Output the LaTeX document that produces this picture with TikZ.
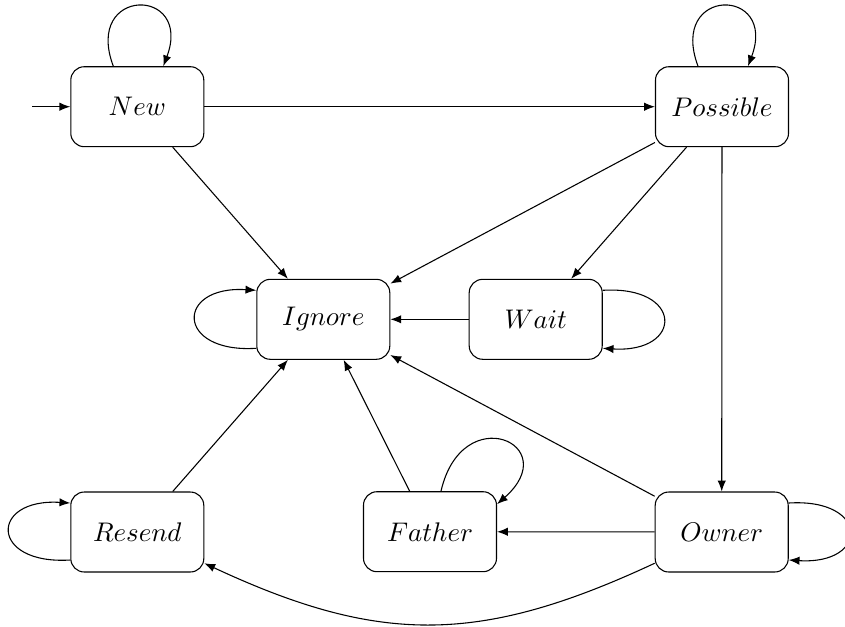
\documentclass[tikz,border=0pt]{standalone}
\usetikzlibrary{arrows.meta,calc}
\begin{document}
\begin{tikzpicture}[x=0.3714pt,y=-0.3714pt,
  state/.style={draw, rounded corners=5pt, minimum width=49.4pt, minimum height=29.7pt, inner sep=0pt},
  >={Latex[length=4pt,width=3.1pt]}]
\useasboundingbox (0,0) rectangle (845,626);
\node[state] (New) at (137.3,106.7) {$New$};
\node[state] (Possible) at (722,106.7) {$Possible$};
\node[state] (Ignore) at (323.3,319.3) {$Ignore$};
\node[state] (Wait) at (535.7,319.3) {$Wait$};
\node[state] (Resend) at (137.3,532) {$Resend$};
\node[state] (Father) at (430,531.7) {$Father$};
\node[state] (Owner) at (721.7,532) {$Owner$};
\coordinate (init) at (32,106.7);

\draw[->] (init) -- (New);
\draw[->] (New) -- (Possible);
\draw[->] (New) -- (Ignore);
\draw[->] (Possible) -- (Ignore);
\draw[->] (Possible) -- (Wait);
\draw[->] (Possible) -- (Owner);
\draw[->] (Wait) -- (Ignore);
\draw[->] (Owner) -- (Ignore);
\draw[->] (Father) -- (Ignore);
\draw[->] (Resend) -- (Ignore);
\draw[->] (Owner) -- (Father);
\draw[->] (Owner) to[bend left=25, looseness=1.1] (Resend);

% loops
\draw[->] ($(New.north)+(-24,0)$) .. controls +(-30,-80) and +(30,-80) .. ($(New.north)+(26,0)$);
\draw[->] ($(Possible.north)+(-24,0)$) .. controls +(-30,-80) and +(30,-80) .. ($(Possible.north)+(26,0)$);
\draw[->] ($(Ignore.west)+(0,29)$) .. controls +(-81,5) and +(-81,-5) .. ($(Ignore.west)+(0,-29)$);
\draw[->] ($(Wait.east)+(0,-29)$) .. controls +(81,-5) and +(81,5) .. ($(Wait.east)+(0,29)$);
\draw[->] ($(Resend.west)+(0,28)$) .. controls +(-81,5) and +(-81,-5) .. ($(Resend.west)+(0,-29)$);
\draw[->] ($(Owner.east)+(0,-29)$) .. controls +(81,-5) and +(81,5) .. ($(Owner.east)+(0,28)$);
\draw[->] ($(Father.north)+(11,0)$) .. controls +(21,-92) and +(68,-60) .. ($(Father.north east)+(0,13)$);
\end{tikzpicture}
\end{document}
